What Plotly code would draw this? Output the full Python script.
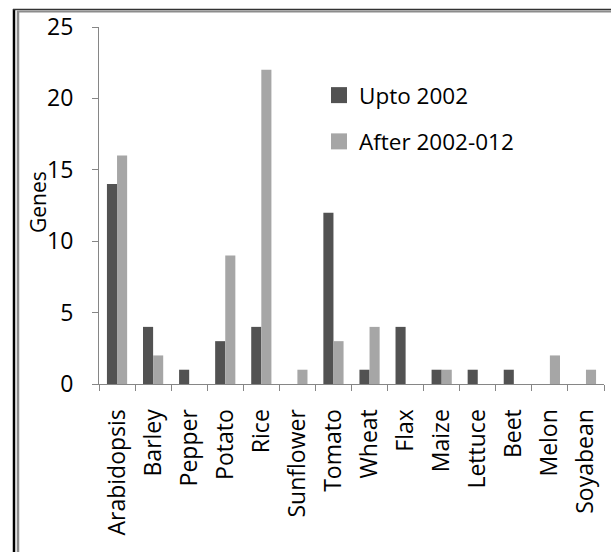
import plotly.graph_objects as go

crops = ["Arabidopsis", "Barley", "Pepper", "Potato", "Rice", "Sunflower", "Tomato",
         "Wheat", "Flax", "Maize", "Lettuce", "Beet", "Melon", "Soyabean"]
upto_2002 = [14, 4, 1, 3, 4, 0, 12, 1, 4, 1, 1, 1, 0, 0]
after_2002 = [16, 2, 0, 9, 22, 1, 3, 4, 0, 1, 0, 0, 2, 1]
series_names = ["Upto 2002", "After 2002-012"]
y_ticks = [0, 5, 10, 15, 20, 25]

FONT = "Open Sans"
W, H = 611, 552
L, R, T, B = 99, 7, 27, 168
pw, ph = W - L - R, H - T - B

def px_x(x):
    return (x - L) / pw

def px_y(y):
    return (H - B - y) / ph

dark, light = "#525252", "#a6a6a6"

fig = go.Figure()
fig.add_trace(go.Bar(x=crops, y=upto_2002, name=series_names[0], showlegend=False,
                     marker=dict(color=dark, line=dict(width=0))))
fig.add_trace(go.Bar(x=crops, y=after_2002, name=series_names[1], showlegend=False,
                     marker=dict(color=light, line=dict(width=0))))
# legend entries with larger square swatches
for nm, col, grp in [(series_names[0], dark, "a"), (series_names[1], light, "b")]:
    fig.add_trace(go.Scatter(x=[None], y=[None], mode="markers", name=nm, legendgroup=grp,
                             marker=dict(symbol="square", size=16, color=col)))

axis_col = "#868686"
fig.update_layout(
    width=W, height=H,
    margin=dict(l=L, r=R, t=T, b=B),
    paper_bgcolor="white", plot_bgcolor="white",
    barmode="group", bargap=0.44, bargroupgap=0,
    font=dict(family=FONT, size=23, color="black"),
    showlegend=True,
    legend=dict(x=px_x(319), y=px_y(74), xanchor="left", yanchor="top",
                font=dict(size=22.5), tracegroupgap=14, bgcolor="rgba(0,0,0,0)",
                itemwidth=30, itemsizing="trace"),
    xaxis=dict(type="category", tickangle=-90, showline=True, linecolor=axis_col,
               linewidth=1, ticks="outside", ticklen=6, tickcolor=axis_col,
               tickson="boundaries", showgrid=False, ticklabelstandoff=15,
               tickfont=dict(size=23)),
    yaxis=dict(range=[0, 25], tickvals=y_ticks, showline=True, linecolor=axis_col,
               linewidth=1, ticks="outside", ticklen=6, tickcolor=axis_col,
               showgrid=False, zeroline=False, ticklabelstandoff=14,
               tickfont=dict(size=23)),
    annotations=[dict(text="Genes", x=px_x(38), y=px_y(202), xref="paper", yref="paper",
                      showarrow=False, textangle=-90, font=dict(size=21),
                      xanchor="center", yanchor="middle")],
    shapes=[
        dict(type="line", xref="paper", yref="paper", x0=px_x(14), x1=px_x(14),
             y0=px_y(9), y1=px_y(560), line=dict(color="black", width=2.5)),
        dict(type="line", xref="paper", yref="paper", x0=px_x(13), x1=px_x(620),
             y0=px_y(9.5), y1=px_y(9.5), line=dict(color="#333333", width=1.5)),
        dict(type="line", xref="paper", yref="paper", x0=px_x(18), x1=px_x(18),
             y0=px_y(11), y1=px_y(560), line=dict(color="#8c8c8c", width=2.5)),
        dict(type="line", xref="paper", yref="paper", x0=px_x(17), x1=px_x(620),
             y0=px_y(11.5), y1=px_y(11.5), line=dict(color="#8c8c8c", width=2)),
    ],
)

fig.write_html("out.html")
